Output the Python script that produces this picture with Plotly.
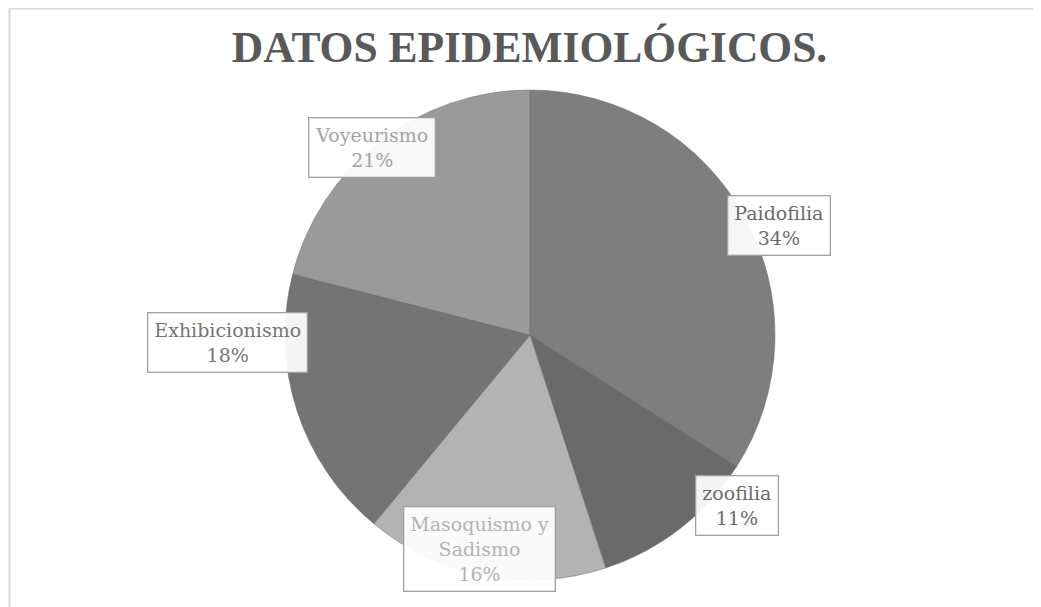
import math
import plotly.graph_objects as go

# ---- data ----
categories = ["Paidofilia", "zoofilia", "Masoquismo y<br>Sadismo", "Exhibicionismo", "Voyeurismo"]
values = [34, 11, 16, 18, 21]
slice_colors = ["#7e7e7e", "#6a6a6a", "#b3b3b3", "#747474", "#9a9a9a"]
label_colors = ["#6b6b6b", "#6b6b6b", "#b3b3b3", "#757575", "#a4a4a4"]
title_text = "DATOS EPIDEMIOLÓGICOS."

W, H = 1033, 599
# pie placement in figure pixels
cx, cy, R = 522, 327, 245
dom_x = [(cx - R) / W, (cx + R) / W]
dom_y = [1 - (cy + R) / H, 1 - (cy - R) / H]

fig = go.Figure()
fig.add_trace(go.Pie(
    labels=[c.replace("<br>", " ") for c in categories],
    values=values,
    sort=False,
    direction="clockwise",
    rotation=0,
    marker=dict(colors=slice_colors, line=dict(color="#6a6a6a", width=0.5)),
    textinfo="none",
    hoverinfo="label+percent",
    showlegend=False,
    domain=dict(x=dom_x, y=dom_y),
))

# label boxes placed at slice mid-angles computed from the values
total = sum(values)
cum = 0
kx_f = [1.16, 1.38, 1.09, 1.3, 1.05]
ky_f = [0.93, 0.88, 0.89, 0.1, 0.97]
annotations = []
for cat, v, col, kx, ky in zip(categories, values, label_colors, kx_f, ky_f):
    theta = 2 * math.pi * (cum + v / 2) / total
    cum += v
    px = cx + kx * R * math.sin(theta)
    py = cy - ky * R * math.cos(theta)
    pct = round(100 * v / total)
    annotations.append(dict(
        x=px / W, y=1 - py / H, xref="paper", yref="paper",
        xanchor="center", yanchor="middle",
        text=f"{cat}<br>{pct}%", showarrow=False,
        font=dict(family="DejaVu Serif", size=19, color=col),
        align="center", bgcolor="rgba(255,255,255,0.93)",
        bordercolor="#a0a0a0", borderwidth=1.3, borderpad=6,
    ))

fig.update_layout(
    width=W, height=H,
    margin=dict(l=0, r=0, t=0, b=0),
    paper_bgcolor="#ffffff",
    plot_bgcolor="#ffffff",
    title=dict(text=f"<b>{title_text}</b>", x=0.5 + 5 / W, xanchor="center", y=1 - 39 / H, yanchor="middle",
               font=dict(family="Liberation Serif", size=43.5, color="#595959")),
    annotations=annotations,
    shapes=[dict(type="rect", xref="paper", yref="paper", x0=1.5 / W, x1=1.01, y0=-0.01, y1=1 - 0.5 / H,
                 line=dict(color="#d9d9d9", width=2), fillcolor="rgba(0,0,0,0)", layer="below")],
)

fig.write_html("out.html")
